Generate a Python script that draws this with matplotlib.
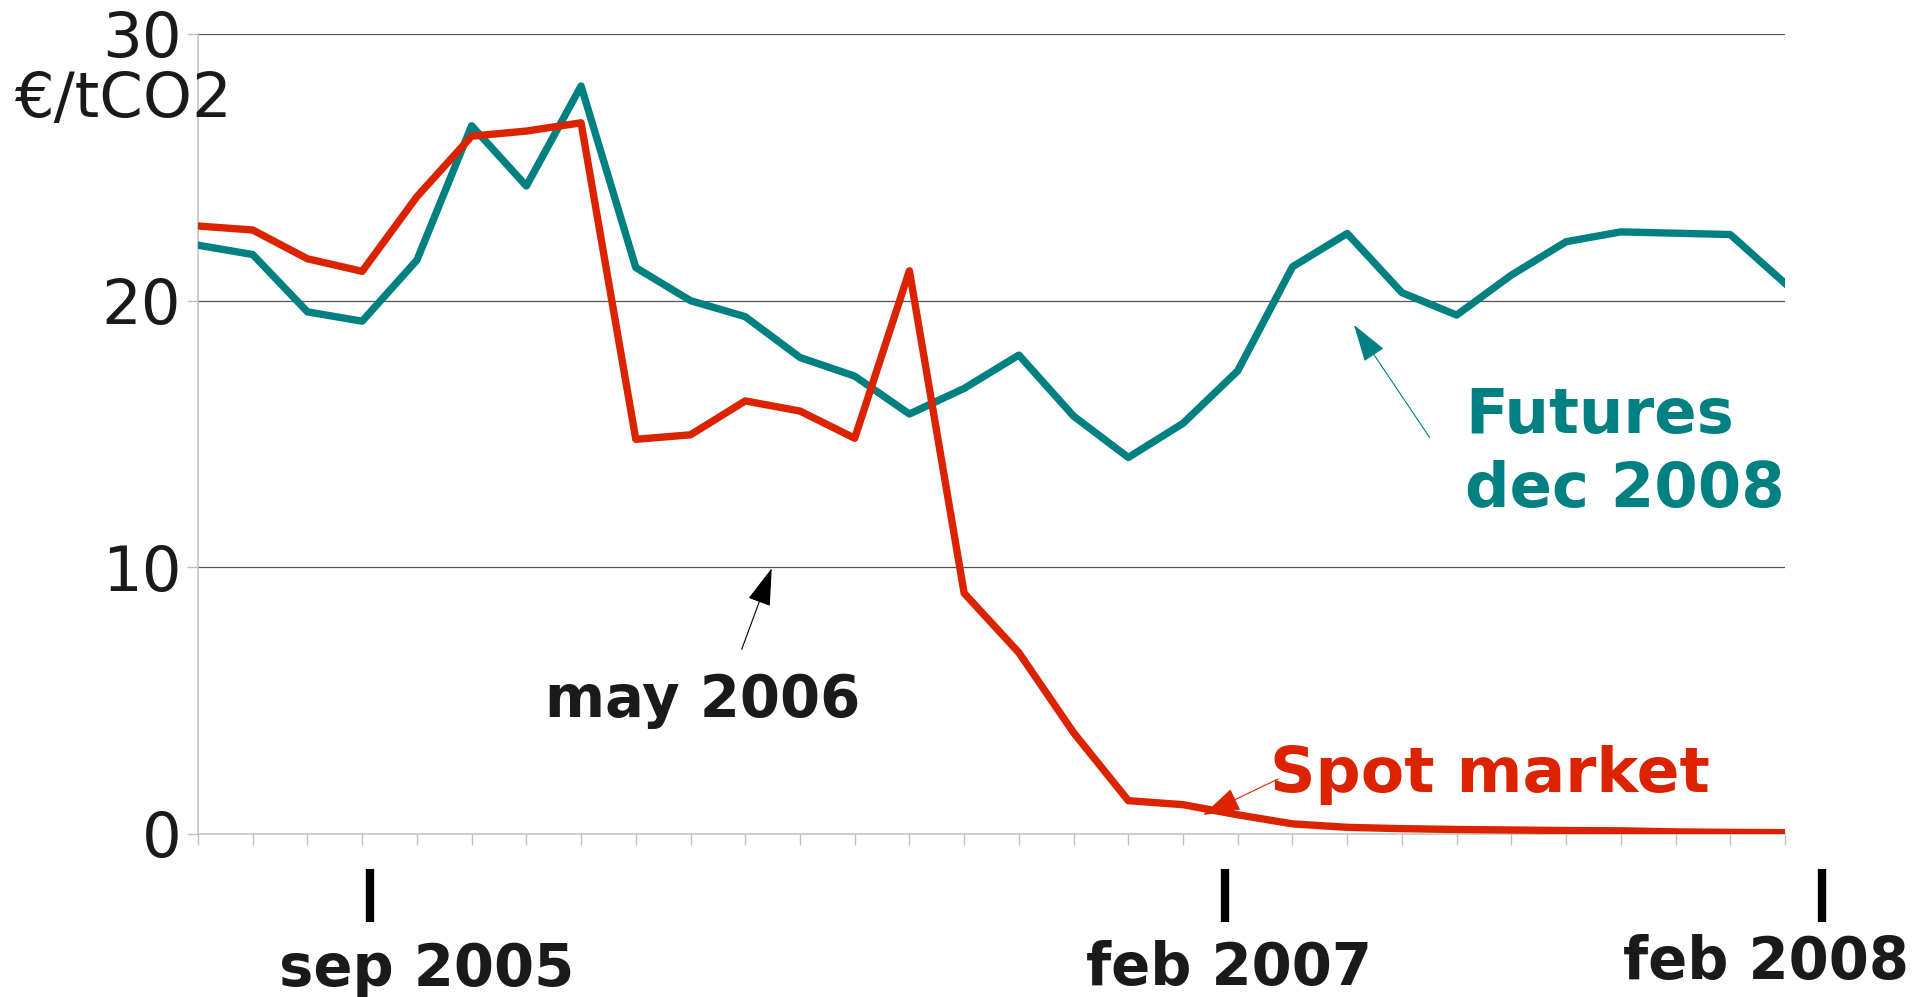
import matplotlib
matplotlib.use("Agg")
import matplotlib.pyplot as plt
from matplotlib.lines import Line2D

# monthly prices, EUR per tonne CO2 (30 points)
futures = [22.08, 21.73, 19.58, 19.23, 21.52, 26.56, 24.3, 28.05, 21.24, 20.0,
           19.4, 17.87, 17.17, 15.75, 16.71, 17.96, 15.67, 14.12, 15.4, 17.37,
           21.27, 22.52, 20.3, 19.46, 20.96, 22.21, 22.58, 22.53, 22.48, 20.65]
spot = [22.8, 22.65, 21.57, 21.1, 23.9, 26.17, 26.36, 26.67, 14.8, 14.97,
        16.24, 15.86, 14.84, 21.12, 9.03, 6.8, 3.8, 1.25, 1.1, 0.72,
        0.38, 0.25, 0.2, 0.17, 0.15, 0.13, 0.12, 0.08, 0.06, 0.05]
y_ticks = [0, 10, 20, 30]
date_labels = ["sep 2005", "feb 2007", "feb 2008"]

W, H = 1931, 997
RED = "#dc2300"
TEAL = "#008080"
DARK = "#1a1a1a"


def fpx(x, y):
    # pixel position (top-left origin) -> figure fraction
    return (x / W, 1 - y / H)


fig = plt.figure(figsize=(W / 100, H / 100), dpi=100)
ax = fig.add_axes([198 / W, 1 - 834 / H, (1785 - 198) / W, (834 - 34) / H])

x = list(range(len(spot)))
for yv in y_ticks[1:]:
    ax.axhline(yv, color="#555555", lw=0.9, zorder=1)
ax.plot(x, futures, color=TEAL, lw=5.3, zorder=3)
ax.plot(x, spot, color=RED, lw=5.3, zorder=3)

ax.set_xlim(0, len(spot) - 1)
ax.set_ylim(0, 30)
ax.set_xticks(x)
ax.set_xticklabels([])
ax.set_yticks(y_ticks)
ax.set_yticklabels([str(v) for v in y_ticks], fontsize=45, color=DARK)
ax.tick_params(axis="both", length=8, width=1, color="#c0c0c0", pad=4)
for s in ["top", "right"]:
    ax.spines[s].set_visible(False)
for s in ["left", "bottom"]:
    ax.spines[s].set_color("#c0c0c0")
    ax.spines[s].set_linewidth(1.1)

fig.text(*fpx(232, 117), "€/tCO2", fontsize=45, color=DARK, ha="right", va="baseline")

# date markers under the axis
for bx in [370, 1225, 1822]:
    fig.add_artist(Line2D([bx / W, bx / W], [1 - 869 / H, 1 - 922 / H],
                          color="black", lw=6, solid_capstyle="butt"))
for (lx, ly), lab in zip([(279, 986), (1086, 985), (1623, 979)], date_labels):
    fig.text(*fpx(lx, ly), lab, fontsize=41.5, fontweight="bold", color=DARK,
             ha="left", va="baseline")

# annotations
fig.text(*fpx(545, 717), "may 2006", fontsize=41.5, fontweight="bold", color=DARK,
         ha="left", va="baseline")
fig.text(*fpx(1465, 433), "Futures", fontsize=45, fontweight="bold",
         color=TEAL, ha="left", va="baseline")
fig.text(*fpx(1465, 507), "dec 2008", fontsize=45, fontweight="bold",
         color=TEAL, ha="left", va="baseline")
fig.text(*fpx(1270, 792), "Spot market", fontsize=45.5, fontweight="bold", color=RED,
         ha="left", va="baseline")

arrows = [((741.7, 649.3), (771.7, 568.3), "black"),
          ((1429.5, 437.3), (1354, 325), TEAL),
          ((1278, 779), (1203, 815), RED)]
for tail, tip, col in arrows:
    ax.annotate("", xy=fpx(*tip), xycoords="figure fraction",
                xytext=fpx(*tail), textcoords="figure fraction",
                arrowprops=dict(arrowstyle="-|>,head_length=0.8,head_width=0.25",
                                mutation_scale=30, color=col, lw=0.8,
                                shrinkA=0, shrinkB=0),
                zorder=4)

fig.savefig("out.png", dpi=100)
